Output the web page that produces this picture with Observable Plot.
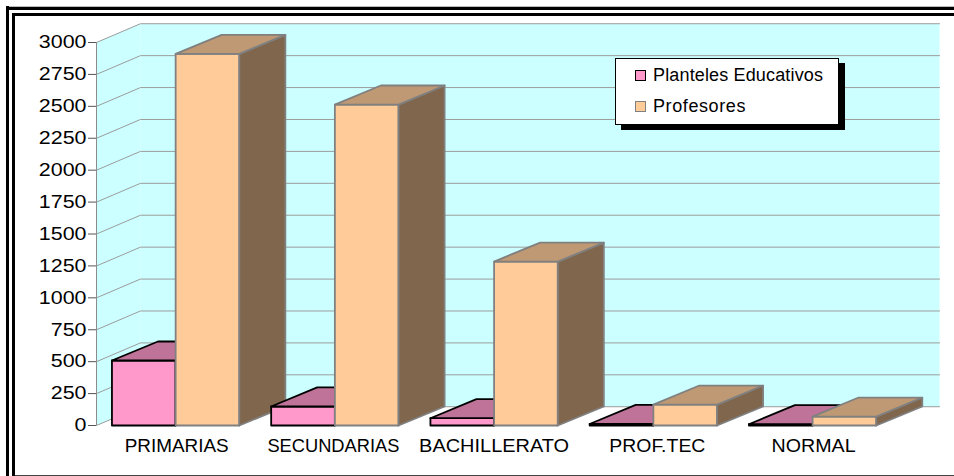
<!DOCTYPE html>
<html>
<head>
<meta charset="utf-8">
<script src="https://cdn.jsdelivr.net/npm/d3@7"></script>
<script src="https://cdn.jsdelivr.net/npm/@observablehq/plot@0.6"></script>
<style>
html,body{margin:0;padding:0;background:#fff;overflow:hidden}
#wrap{position:relative;width:954px;height:476px;font-family:"Liberation Sans",Arial,sans-serif;color:#000}
#wrap svg{position:absolute;left:0;top:0}
.rule{position:absolute}
#legend{position:absolute;left:615px;top:58px;width:222px;height:65px;background:#fff;border:1px solid #000;box-shadow:6px 5px 0 #000;box-sizing:content-box}
.item{position:absolute;left:37px;font-size:18px;line-height:20px;white-space:nowrap}
.swatch{position:absolute;left:-18px;top:5px;width:9px;height:9px;border-style:solid;border-width:1.5px}
</style>
</head>
<body>
<div id="wrap"></div>
<script>
const categories = ["PRIMARIAS", "SECUNDARIAS", "BACHILLERATO", "PROF.TEC", "NORMAL"];
const planteles = [509, 149, 57, 12, 10];
const profesores = [2911, 2514, 1284, 164, 70];
const tickValues = [0, 250, 500, 750, 1000, 1250, 1500, 1750, 2000, 2250, 2500, 2750, 3000];
const seriesNames = ["Planteles Educativos", "Profesores"];
const seriesFront = ["#FF99CC", "#FFCC99"];
const seriesTop = ["#BF7399", "#BF9973"];
const seriesSide = ["#7F4C66", "#7F664D"];
const seriesStroke = ["#000000", "#808080"];

const barWidth = 0.4, barDepthX = 0.289, barDepthY = 149;
const wallLeft = -0.497, wallRight = 4.797, wallDepthX = 0.276, wallDepthY = 147;
const labelWidths = [104, 132, 150, 96, 84];
const labelShifts = [1, -1.5, 0, 4, 1];
const legendSpacing = [0.15, 0.6];

function polygon(id, pts, fill, stroke) {
  return [...pts, pts[0]].map(([x, y]) => ({id, x, y, fill, stroke}));
}

const faces = [];
[planteles, profesores].forEach((values, s) => {
  values.forEach((v, i) => {
    const x0 = i - barWidth + s * barWidth, x1 = x0 + barWidth;
    const dx = barDepthX, dy = barDepthY;
    const order = i * 10 + s;
    faces.push({order, rows: [
      ...polygon(`${order}-front`, [[x0, 0], [x1, 0], [x1, v], [x0, v]], seriesFront[s], seriesStroke[s]),
      ...polygon(`${order}-side`, [[x1, 0], [x1 + dx, dy], [x1 + dx, v + dy], [x1, v]], seriesSide[s], seriesStroke[s]),
      ...polygon(`${order}-top`, [[x0, v], [x1, v], [x1 + dx, v + dy], [x0 + dx, v + dy]], seriesTop[s], seriesStroke[s])
    ]});
  });
});
const barRows = faces.sort((a, b) => a.order - b.order).flatMap(d => d.rows);

const wallRows = [
  ...polygon("back", [[wallLeft + wallDepthX, wallDepthY], [wallRight, wallDepthY], [wallRight, 3000 + wallDepthY], [wallLeft + wallDepthX, 3000 + wallDepthY]], "#CCFFFF", "none"),
  ...polygon("left", [[wallLeft, 0], [wallLeft + wallDepthX, wallDepthY], [wallLeft + wallDepthX, 3000 + wallDepthY], [wallLeft, 3000]], "#CCFFFF", "none")
];
const gridRows = tickValues.flatMap(t => [
  {t, x: wallLeft, y: t},
  {t, x: wallLeft + wallDepthX, y: t + wallDepthY},
  {t, x: wallRight, y: t + wallDepthY}
]);

const chart = Plot.plot({
  width: 954,
  height: 476,
  marginLeft: 96,
  marginRight: 15,
  marginTop: 42,
  marginBottom: 51,
  style: {background: "transparent", fontFamily: '"Liberation Sans",Arial,sans-serif', color: "#000"},
  x: {domain: [wallLeft, wallRight], axis: null},
  y: {domain: [0, 3000], axis: null},
  marks: [
    Plot.line(wallRows, {x: "x", y: "y", z: "id", fill: "#CCFFFF", stroke: "none"}),
    Plot.line(gridRows, {x: "x", y: "y", z: "t", stroke: "#9c9c9c", strokeWidth: 1}),
    Plot.ruleX([wallLeft], {y1: 0, y2: 3000, stroke: "#8c8c8c", strokeWidth: 1}),
    Plot.line(barRows, {
      x: "x", y: "y", z: "id",
      fill: {value: "fill", scale: null},
      stroke: {value: "stroke", scale: null},
      strokeWidth: 1.8,
      strokeLinejoin: "round",
      strokeMiterlimit: 4
    }),
    Plot.axisY({
      ticks: tickValues,
      tickSize: 8,
      tickPadding: 2,
      tickFormat: d => String(d),
      label: null,
      stroke: "#555",
      fontSize: 18,
      fill: "#000"
    }),
    Plot.axisX({
      ticks: categories.map((d, i) => i),
      tickFormat: i => categories[i],
      tickSize: 0,
      tickPadding: 14,
      label: null,
      fontSize: 18,
      fill: "#000"
    })
  ]
});

const wrap = document.getElementById("wrap");
wrap.appendChild(chart);

// The reference's type is horizontally stretched: widen the glyphs of the real text.
chart.querySelectorAll('g[aria-label="y-axis tick label"] text').forEach(t => {
  t.setAttribute("textLength", t.getComputedTextLength() * 1.19);
  t.setAttribute("lengthAdjust", "spacingAndGlyphs");
});
chart.querySelectorAll('g[aria-label="x-axis tick label"] text').forEach((t, i) => {
  t.setAttribute("textLength", labelWidths[i]);
  t.setAttribute("lengthAdjust", "spacingAndGlyphs");
  t.setAttribute("dx", labelShifts[i]);
});

[
  {left: 6, top: 6, width: 948, height: 1, background: "#bbb"},
  {left: 6, top: 7, width: 948, height: 3, background: "#000"},
  {left: 6, top: 6, width: 3, height: 470, background: "#000"},
  {left: 12, top: 13, width: 942, height: 2.5, background: "#000"},
  {left: 12, top: 13, width: 3, height: 463, background: "#000"},
  {left: 15, top: 475, width: 939, height: 1, background: "#444"}
].forEach(r => {
  const d = document.createElement("div");
  d.className = "rule";
  Object.entries(r).forEach(([k, v]) => d.style[k] = typeof v === "number" ? v + "px" : v);
  wrap.appendChild(d);
});

const legend = document.createElement("div");
legend.id = "legend";
seriesNames.forEach((name, s) => {
  const item = document.createElement("div");
  item.className = "item";
  item.style.top = (s === 0 ? 6 : 37) + "px";
  item.style.letterSpacing = legendSpacing[s] + "px";
  item.textContent = name;
  const sw = document.createElement("span");
  sw.className = "swatch";
  sw.style.background = seriesFront[s];
  sw.style.borderColor = seriesStroke[s];
  item.appendChild(sw);
  legend.appendChild(item);
});
wrap.appendChild(legend);
</script>
</body>
</html>
